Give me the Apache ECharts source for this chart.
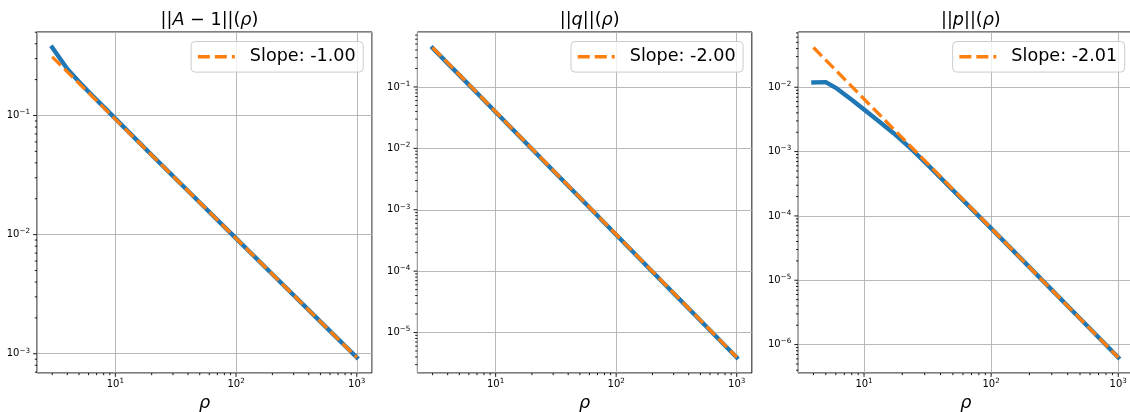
<!DOCTYPE html>
<html>
<head>
<meta charset="utf-8">
<script src="https://cdn.jsdelivr.net/npm/echarts@6/dist/echarts.min.js"></script>
<style>
  html, body { margin: 0; padding: 0; background: #fff; }
  #chart { width: 1130px; height: 412px; }
</style>
</head>
<body>
<div id="chart"></div>
<script>
// ---- ||A - 1|| against rho ----
const rhoA  = [3, 3.5, 4, 5, 6, 8, 10, 20, 50, 100, 200, 500, 1000];
const normA = [0.372, 0.298, 0.245, 0.192, 0.158, 0.118, 0.094, 0.0466, 0.0186, 0.0093, 0.00465, 0.00186, 0.00093];
const fitRhoA = [3, 1000];
const fitA    = [0.31, 0.00093];

// ---- ||q|| against rho ----
const rhoQ  = [3, 4, 5, 7, 10, 20, 50, 100, 200, 500, 1000];
const normQ = [0.43, 0.243, 0.156, 0.0799, 0.0391, 0.00978, 0.00157, 0.000392, 0.000098, 0.0000157, 0.00000392];
const fitRhoQ = [3, 1000];
const fitQ    = [0.44, 0.00000396];

// ---- ||p|| against rho ----
const rhoP  = [4, 5, 6, 7, 8, 10, 13, 17, 24, 32, 50, 100, 200, 500, 1000];
const normP = [0.0119, 0.0120, 0.0098, 0.0078, 0.0064, 0.0045, 0.00300, 0.00195, 0.00106, 0.00061, 0.000252, 0.000064, 0.000016, 0.00000255, 0.00000063];
const fitRhoP = [4, 1000];
const fitP    = [0.0415, 0.00000063];

// panel titles (rich-text: n = upright, i = italic)
const titleTexts = [
  '{n|||}{i|A}{n| \u2212 1||(}{i|\u03c1}{n|)}',
  '{n|||}{i|q}{n|||(}{i|\u03c1}{n|)}',
  '{n|||}{i|p}{n|||(}{i|\u03c1}{n|)}'
];
const xAxisName = '\u03c1';

const FONT = 'DejaVu Sans';
const BLUE = '#1f77b4';
const ORANGE = '#ff7f0e';

// axes placement in the 1130 x 412 canvas
const panelLeft  = [37, 417.4, 798.2];
const panelWidth = [335, 334.5, 335.3];
const panelTop = 32;
const panelHeight = 341;
const CANVAS_W = 1130;

const panels = [
  { rho: rhoA, norm: normA, fitRho: fitRhoA, fit: fitA },
  { rho: rhoQ, norm: normQ, fitRho: fitRhoQ, fit: fitQ },
  { rho: rhoP, norm: normP, fitRho: fitRhoP, fit: fitP }
];

// slope of the straight fit in log-log space, as shown in the legend
function slopeOf(xs, ys) {
  return Math.log10(ys[1] / ys[0]) / Math.log10(xs[1] / xs[0]);
}

// log range padded by 5% of the span on each side
function logRange(values) {
  const lo = Math.log10(Math.min(...values));
  const hi = Math.log10(Math.max(...values));
  const m = 0.05 * (hi - lo);
  return [Math.pow(10, lo - m), Math.pow(10, hi + m)];
}

function supText(k) {
  return k < 0 ? '\u2212' + Math.abs(k) : String(k);
}

function powLabel(v) {
  const e = Math.log10(v);
  const k = Math.round(e);
  if (Math.abs(e - k) > 1e-6) return '';
  return '{b|10}{e|' + supText(k) + '}';
}

const labelRich = {
  b: { fontFamily: FONT, fontSize: 10, lineHeight: 13, color: '#000' },
  e: { fontFamily: FONT, fontSize: 7.2, lineHeight: 8, verticalAlign: 'top', color: '#000' }
};

// major (10^k) and minor (m * 10^k) tick positions inside a log range
function logTicks(range) {
  const major = [], minor = [];
  const k0 = Math.floor(Math.log10(range[0])) - 1;
  const k1 = Math.ceil(Math.log10(range[1])) + 1;
  for (let k = k0; k <= k1; k++) {
    const base = Math.pow(10, k);
    if (base >= range[0] && base <= range[1]) major.push(base);
    for (let m = 2; m <= 9; m++) {
      const v = m * base;
      if (v >= range[0] && v <= range[1]) minor.push(v);
    }
  }
  return { major, minor };
}

const grids = [], xAxes = [], yAxes = [], series = [], titles = [], legends = [];

const DASH_ICON = 'path://M0 0H12V3.5H0Z M17 0H29V3.5H17Z M34 0H37V3.5H34Z';

panels.forEach((p, i) => {
  const xr = logRange(p.rho.concat(p.fitRho));
  const yr = logRange(p.norm.concat(p.fit));
  const slopeLabel = 'Slope: ' + slopeOf(p.fitRho, p.fit).toFixed(2);

  grids.push({
    left: panelLeft[i], top: panelTop, width: panelWidth[i], height: panelHeight,
    show: true, borderColor: '#000', borderWidth: 1, backgroundColor: 'transparent',
    containLabel: false, outerBoundsMode: 'none'
  });

  xAxes.push({
    type: 'log', logBase: 10, gridIndex: i, min: xr[0], max: xr[1],
    axisLine: { show: false }, axisTick: { show: false },
    splitLine: { show: true, lineStyle: { color: '#b0b0b0', width: 0.9 } },
    axisLabel: { formatter: powLabel, rich: labelRich, margin: 5 },
    name: xAxisName, nameLocation: 'middle', nameGap: 15,
    nameTextStyle: { fontFamily: FONT, fontStyle: 'italic', fontSize: 17.6, color: '#000' }
  });

  yAxes.push({
    type: 'log', logBase: 10, gridIndex: i, min: yr[0], max: yr[1],
    axisLine: { show: false }, axisTick: { show: false },
    splitLine: { show: true, lineStyle: { color: '#b0b0b0', width: 0.9 } },
    axisLabel: { formatter: powLabel, rich: labelRich, margin: 7 }
  });

  series.push({
    type: 'line', name: 'norm' + i, xAxisIndex: i, yAxisIndex: i,
    data: p.rho.map((r, j) => [r, p.norm[j]]),
    symbol: 'none', showSymbol: false, silent: true, z: 2,
    color: BLUE,
    lineStyle: { color: BLUE, width: 4.4, cap: 'square', join: 'round' }
  });

  series.push({
    type: 'line', name: slopeLabel, xAxisIndex: i, yAxisIndex: i,
    data: p.fitRho.map((r, j) => [r, p.fit[j]]),
    symbol: 'none', showSymbol: false, silent: true, z: 3,
    color: ORANGE,
    lineStyle: { color: ORANGE, width: 3.3, type: [12, 5], cap: 'butt' }
  });

  // tick marks: kind 0 = x major, 1 = x minor, 2 = y major, 3 = y minor
  const xt = logTicks(xr), yt = logTicks(yr);
  const tickData = []
    .concat(xt.major.map(v => [v, yr[0], 0]))
    .concat(xt.minor.map(v => [v, yr[0], 1]))
    .concat(yt.major.map(v => [xr[0], v, 2]))
    .concat(yt.minor.map(v => [xr[0], v, 3]));

  series.push({
    type: 'custom', xAxisIndex: i, yAxisIndex: i, silent: true, clip: false, z: 5,
    data: tickData,
    renderItem: function (params, api) {
      const pt = api.coord([api.value(0), api.value(1)]);
      const kind = api.value(2);
      const len = (kind === 0 || kind === 2) ? 3.9 : 2.2;
      const shape = kind < 2
        ? { x1: pt[0], y1: pt[1], x2: pt[0], y2: pt[1] + len }
        : { x1: pt[0] - len, y1: pt[1], x2: pt[0], y2: pt[1] };
      return { type: 'line', shape: shape, style: { stroke: '#000', lineWidth: 0.9 } };
    }
  });

  titles.push({
    text: titleTexts[i],
    left: panelLeft[i] + panelWidth[i] / 2, textAlign: 'center', top: 6,
    textStyle: {
      fontFamily: FONT, fontSize: 17.6, fontWeight: 'normal', color: '#000',
      rich: {
        n: { fontFamily: FONT, fontSize: 17.6, color: '#000' },
        i: { fontFamily: FONT, fontSize: 17.6, fontStyle: 'italic', color: '#000' }
      }
    }
  });

  legends.push({
    data: [{ name: slopeLabel, icon: DASH_ICON }],
    right: CANVAS_W - (panelLeft[i] + panelWidth[i]) + 8.8,
    top: panelTop + 9.5,
    orient: 'horizontal',
    itemWidth: 37, itemHeight: 3.5,
    itemStyle: { borderWidth: 0 },
    padding: [4.5, 7.5, 4.5, 6.7],
    backgroundColor: 'rgba(255,255,255,0.8)',
    borderColor: '#cccccc', borderWidth: 1, borderRadius: 4,
    selectedMode: false,
    textStyle: { fontFamily: FONT, fontSize: 17.6, lineHeight: 21.6, color: '#000', padding: [0, 0, 0, 10] }
  });
});

const chart = echarts.init(document.getElementById('chart'), null, { renderer: 'canvas' });
chart.setOption({
  animation: false,
  backgroundColor: '#fff',
  textStyle: { fontFamily: FONT },
  title: titles,
  legend: legends,
  tooltip: { show: false },
  grid: grids,
  xAxis: xAxes,
  yAxis: yAxes,
  series: series
});
</script>
</body>
</html>
